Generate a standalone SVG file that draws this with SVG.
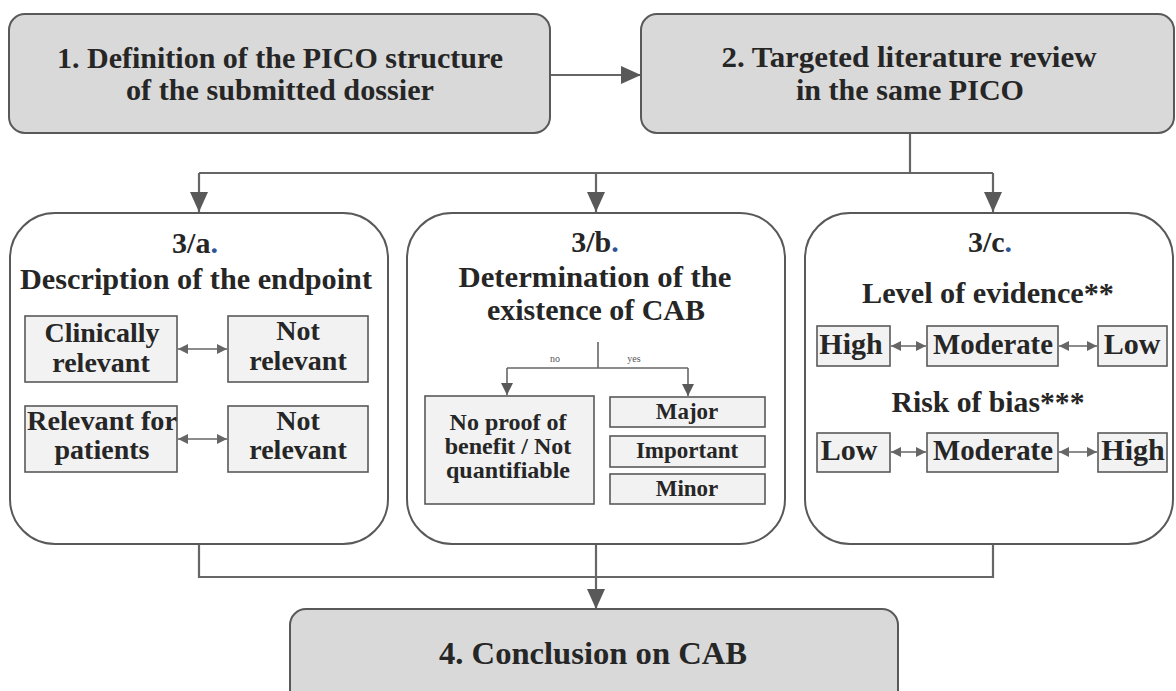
<svg xmlns="http://www.w3.org/2000/svg" width="1176" height="691" viewBox="0 0 1176 691">
<defs>
<style>
text{font-family:'Liberation Serif','DejaVu Serif','Times New Roman',serif;font-weight:bold;fill:#262626;text-anchor:middle}
.main{fill:#d9d9d9;stroke:#595959;stroke-width:2}
.big{fill:#ffffff;stroke:#595959;stroke-width:2}
.inner{fill:#f2f2f2;stroke:#595959;stroke-width:1.6}
.conn{fill:none;stroke:#666666;stroke-width:2.2}
.thin{fill:none;stroke:#666666;stroke-width:1.6}
.t30{font-size:30px}
.t28{font-size:28px}
.t24{font-size:24px}
.t23{font-size:23px}
.t32{font-size:32px}
.small{font-size:10px;font-weight:normal;fill:#555}
.dot{fill:#2f5597}
</style>
<marker id="ah" markerUnits="userSpaceOnUse" markerWidth="20" markerHeight="18" refX="20" refY="9" orient="auto">
<path d="M0,0 L20,9 L0,18 z" fill="#595959"/>
</marker>
<marker id="ahs" markerUnits="userSpaceOnUse" markerWidth="10" markerHeight="10" refX="10" refY="5" orient="auto-start-reverse">
<path d="M0,0 L10,5 L0,10 z" fill="#666666"/>
</marker>
<marker id="ahm" markerUnits="userSpaceOnUse" markerWidth="12" markerHeight="12" refX="12" refY="6" orient="auto">
<path d="M0,0 L12,6 L0,12 z" fill="#595959"/>
</marker>
</defs>

<g id="connectors">
<path class="conn" d="M550,75 H641" marker-end="url(#ah)"/>
<path class="conn" d="M910,133 V173"/>
<path class="conn" d="M199,173 H993"/>
<path class="conn" d="M199,173 V212" marker-end="url(#ah)"/>
<path class="conn" d="M596,173 V212" marker-end="url(#ah)"/>
<path class="conn" d="M993,173 V212" marker-end="url(#ah)"/>
<path class="conn" d="M199,544 V577 H993 V544"/>
<path class="conn" d="M596,544 V609" marker-end="url(#ah)"/>
</g>

<g font-family="Liberation Serif, DejaVu Serif, serif">
<g id="node1">
<rect class="main" x="9" y="14" width="541" height="119" rx="16"/>
<text class="t30" x="280" y="68" textLength="446" lengthAdjust="spacingAndGlyphs">1. Definition of the PICO structure</text>
<text class="t30" x="280" y="100" textLength="308" lengthAdjust="spacingAndGlyphs">of the submitted dossier</text>
</g>

<g id="node2">
<rect class="main" x="641" y="14" width="533" height="119" rx="16"/>
<text class="t30" x="909" y="67" textLength="375" lengthAdjust="spacingAndGlyphs">2. Targeted literature review</text>
<text class="t30" x="910" y="100" textLength="228" lengthAdjust="spacingAndGlyphs">in the same PICO</text>
</g>

<g id="node3a">
<rect class="big" x="10" y="213" width="378" height="331" rx="45"/>
<text class="t30" x="195" y="253">3/a<tspan class="dot">.</tspan></text>
<text class="t30" x="196" y="289" textLength="352" lengthAdjust="spacingAndGlyphs">Description of the endpoint</text>
<rect class="inner" x="25" y="316" width="152" height="66"/>
<text class="t28" x="102" y="342">Clinically</text>
<text class="t28" x="101" y="372">relevant</text>
<rect class="inner" x="228" y="316" width="140" height="66"/>
<text class="t28" x="298" y="340">Not</text>
<text class="t28" x="298" y="370">relevant</text>
<rect class="inner" x="25" y="406" width="152" height="66"/>
<text class="t28" x="102" y="430" textLength="150" lengthAdjust="spacingAndGlyphs">Relevant for</text>
<text class="t28" x="102" y="459">patients</text>
<rect class="inner" x="228" y="406" width="140" height="66"/>
<text class="t28" x="298" y="430">Not</text>
<text class="t28" x="298" y="459">relevant</text>
<path class="thin" d="M178,349 H227" marker-start="url(#ahs)" marker-end="url(#ahs)"/>
<path class="thin" d="M178,439 H227" marker-start="url(#ahs)" marker-end="url(#ahs)"/>
</g>

<g id="node3b">
<rect class="big" x="407" y="213" width="378" height="331" rx="45"/>
<text class="t30" x="595" y="252">3/b<tspan class="dot">.</tspan></text>
<text class="t30" x="595" y="287" textLength="273" lengthAdjust="spacingAndGlyphs">Determination of the</text>
<text class="t30" x="596" y="320" textLength="218" lengthAdjust="spacingAndGlyphs">existence of CAB</text>
<path class="thin" d="M598,342 V368"/>
<path class="thin" d="M507,368 H688"/>
<path class="thin" d="M507,368 V395" marker-end="url(#ahm)"/>
<path class="thin" d="M688,368 V396" marker-end="url(#ahm)"/>
<text class="small" x="555" y="362">no</text>
<text class="small" x="634" y="362">yes</text>
<rect class="inner" x="425" y="396" width="169" height="108"/>
<text class="t24" x="508" y="430">No proof of</text>
<text class="t24" x="508" y="454">benefit / Not</text>
<text class="t24" x="508" y="478">quantifiable</text>
<rect class="inner" x="610" y="397" width="155" height="30"/>
<text class="t23" x="687" y="419">Major</text>
<rect class="inner" x="610" y="436" width="155" height="31"/>
<text class="t23" x="687" y="458">Important</text>
<rect class="inner" x="610" y="474" width="155" height="30"/>
<text class="t23" x="687" y="496">Minor</text>
</g>

<g id="node3c">
<rect class="big" x="805" y="213" width="368" height="331" rx="45"/>
<text class="t30" x="990" y="252">3/c<tspan class="dot">.</tspan></text>
<text class="t30" x="988" y="303" textLength="252" lengthAdjust="spacingAndGlyphs">Level of evidence**</text>
<rect class="inner" x="817" y="326" width="73" height="40"/>
<text class="t30" x="851" y="354">High</text>
<rect class="inner" x="927" y="326" width="131" height="40"/>
<text class="t30" x="993" y="354" textLength="120" lengthAdjust="spacingAndGlyphs">Moderate</text>
<rect class="inner" x="1098" y="326" width="69" height="40"/>
<text class="t30" x="1132" y="354">Low</text>
<path class="thin" d="M891,346 H926" marker-start="url(#ahs)" marker-end="url(#ahs)"/>
<path class="thin" d="M1059,346 H1097" marker-start="url(#ahs)" marker-end="url(#ahs)"/>
<text class="t30" x="988" y="412" textLength="193" lengthAdjust="spacingAndGlyphs">Risk of bias***</text>
<rect class="inner" x="817" y="433" width="73" height="39"/>
<text class="t30" x="849" y="460">Low</text>
<rect class="inner" x="927" y="433" width="131" height="39"/>
<text class="t30" x="993" y="460" textLength="120" lengthAdjust="spacingAndGlyphs">Moderate</text>
<rect class="inner" x="1098" y="433" width="69" height="39"/>
<text class="t30" x="1133" y="460">High</text>
<path class="thin" d="M891,452 H926" marker-start="url(#ahs)" marker-end="url(#ahs)"/>
<path class="thin" d="M1059,452 H1097" marker-start="url(#ahs)" marker-end="url(#ahs)"/>
</g>

<g id="node4">
<rect class="main" x="290" y="609" width="608" height="100" rx="16"/>
<text class="t32" x="593" y="664" textLength="308" lengthAdjust="spacingAndGlyphs">4. Conclusion  on CAB</text>
</g>
</g>
</svg>
